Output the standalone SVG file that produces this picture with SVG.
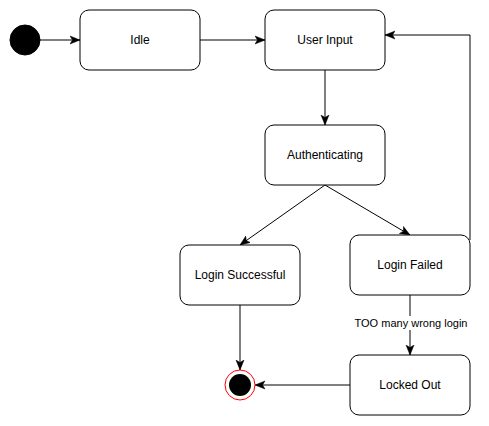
<svg xmlns="http://www.w3.org/2000/svg" width="489" height="426" viewBox="0 0 489 426">
<style>
.box{fill:#fff;stroke:#000;stroke-width:1}
.t{font-family:"Liberation Sans",Arial,sans-serif;font-size:12px;fill:#000;text-anchor:middle;dominant-baseline:central}
.e{fill:none;stroke:#000;stroke-width:1}
.lbl{font-family:"Liberation Sans",Arial,sans-serif;font-size:11px;fill:#000;text-anchor:middle;dominant-baseline:central}
</style>
<defs>
<marker id="a" viewBox="0 0 10 10" refX="10" refY="5" markerWidth="10" markerHeight="10" markerUnits="userSpaceOnUse" orient="auto">
<path d="M0,1 L10,5 L0,9 L2.5,5 Z" fill="#000" stroke="#000" stroke-width="0.5"/>
</marker>
</defs>
<rect width="489" height="426" fill="#fff"/>
<g id="connectors">
<path class="e" d="M40,40 L80,40" marker-end="url(#a)"/>
<path class="e" d="M200,40 L265,40" marker-end="url(#a)"/>
<path class="e" d="M325,70 L325,125" marker-end="url(#a)"/>
<path class="e" d="M325,185 L240,245" marker-end="url(#a)"/>
<path class="e" d="M325,185 L410,235" marker-end="url(#a)"/>
<path class="e" d="M470,240 L470,35 L385,35" marker-end="url(#a)"/>
<path class="e" d="M410,295 L410,355" marker-end="url(#a)"/>
<path class="e" d="M240,305 L240,370" marker-end="url(#a)"/>
<path class="e" d="M350,385 L255,385" marker-end="url(#a)"/>
<rect x="354" y="316" width="114" height="14" fill="#fff"/>
<text class="lbl" x="411" y="323">TOO many wrong login</text>
</g>
<g id="start"><circle cx="25" cy="40" r="15" fill="#000" stroke="#000"/></g>
<g id="idle"><rect class="box" x="80" y="10" width="120" height="60" rx="9"/><text class="t" x="140" y="40">Idle</text></g>
<g id="userinput"><rect class="box" x="265" y="10" width="120" height="60" rx="9"/><text class="t" x="325" y="40">User Input</text></g>
<g id="auth"><rect class="box" x="265" y="125" width="120" height="60" rx="9"/><text class="t" x="325" y="155">Authenticating</text></g>
<g id="success"><rect class="box" x="180" y="245" width="120" height="60" rx="9"/><text class="t" x="240" y="275">Login Successful</text></g>
<g id="failed"><rect class="box" x="350" y="235" width="120" height="60" rx="9"/><text class="t" x="410" y="265">Login Failed</text></g>
<g id="locked"><rect class="box" x="350" y="355" width="120" height="60" rx="9"/><text class="t" x="410" y="385">Locked Out</text></g>
<g id="end"><circle cx="240" cy="385" r="15" fill="#fff" stroke="#ff0000" stroke-width="1"/><circle cx="240" cy="385" r="11" fill="#000"/></g>
</svg>
